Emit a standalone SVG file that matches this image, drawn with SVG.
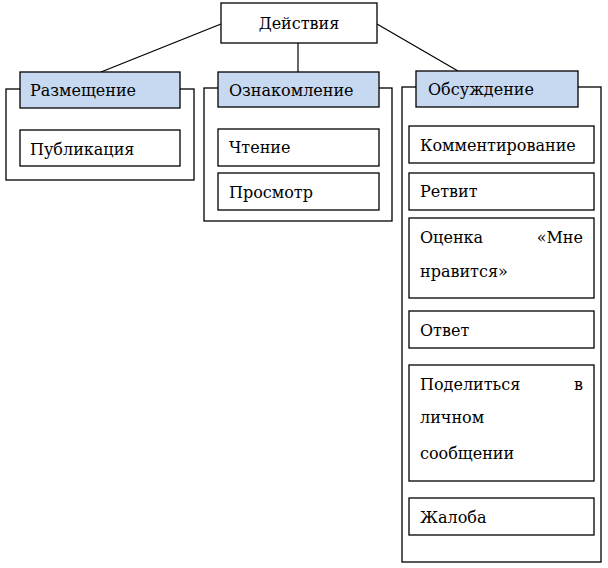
<svg xmlns="http://www.w3.org/2000/svg" width="608" height="568" viewBox="0 0 608 568">
<style>
rect{fill:#fff;stroke:#000;stroke-width:1.3}
rect.h{fill:#c6d9f1}
text{font-family:'DejaVu Serif','Liberation Serif',serif;font-size:16px;fill:#000}
line{stroke:#000;stroke-width:1.2}
</style>
<rect width="608" height="568" style="fill:#fff;stroke:none"/>
<g id="connectors">
<line x1="221" y1="24" x2="101" y2="72"/>
<line x1="298" y1="43" x2="298" y2="72"/>
<line x1="377" y1="24" x2="458" y2="71"/>
</g>
<g id="root"><rect x="221" y="3" width="156" height="40"/><text x="299" y="29" text-anchor="middle">Действия</text></g>
<g id="g1">
<rect x="6" y="89" width="188" height="91"/>
<rect class="h" x="20" y="72" width="160" height="36"/><text x="30" y="96">Размещение</text>
<rect x="20" y="130" width="160" height="36"/><text x="30" y="155">Публикация</text>
</g>
<g id="g2">
<rect x="204" y="88" width="188" height="133"/>
<rect class="h" x="218" y="72" width="161" height="35"/><text x="229" y="96">Ознакомление</text>
<rect x="218" y="129" width="161" height="37"/><text x="229" y="153">Чтение</text>
<rect x="218" y="173" width="161" height="37"/><text x="229" y="198">Просмотр</text>
</g>
<g id="g3">
<rect x="402" y="87" width="199" height="475"/>
<rect class="h" x="416" y="71" width="162" height="36"/><text x="428" y="95">Обсуждение</text>
<rect x="409" y="126" width="185" height="37"/><text x="420" y="151">Комментирование</text>
<rect x="409" y="173" width="185" height="37"/><text x="420" y="197">Ретвит</text>
<rect x="409" y="218" width="185" height="80"/><text x="420" y="243">Оценка</text><text x="583" y="243" text-anchor="end">«Мне</text><text x="420" y="277">нравится»</text>
<rect x="409" y="311" width="185" height="37"/><text x="420" y="336">Ответ</text>
<rect x="409" y="365" width="185" height="116"/><text x="420" y="390">Поделиться</text><text x="583" y="390" text-anchor="end">в</text><text x="420" y="423">личном</text><text x="420" y="459">сообщении</text>
<rect x="409" y="498" width="185" height="37"/><text x="420" y="523">Жалоба</text>
</g>
</svg>
